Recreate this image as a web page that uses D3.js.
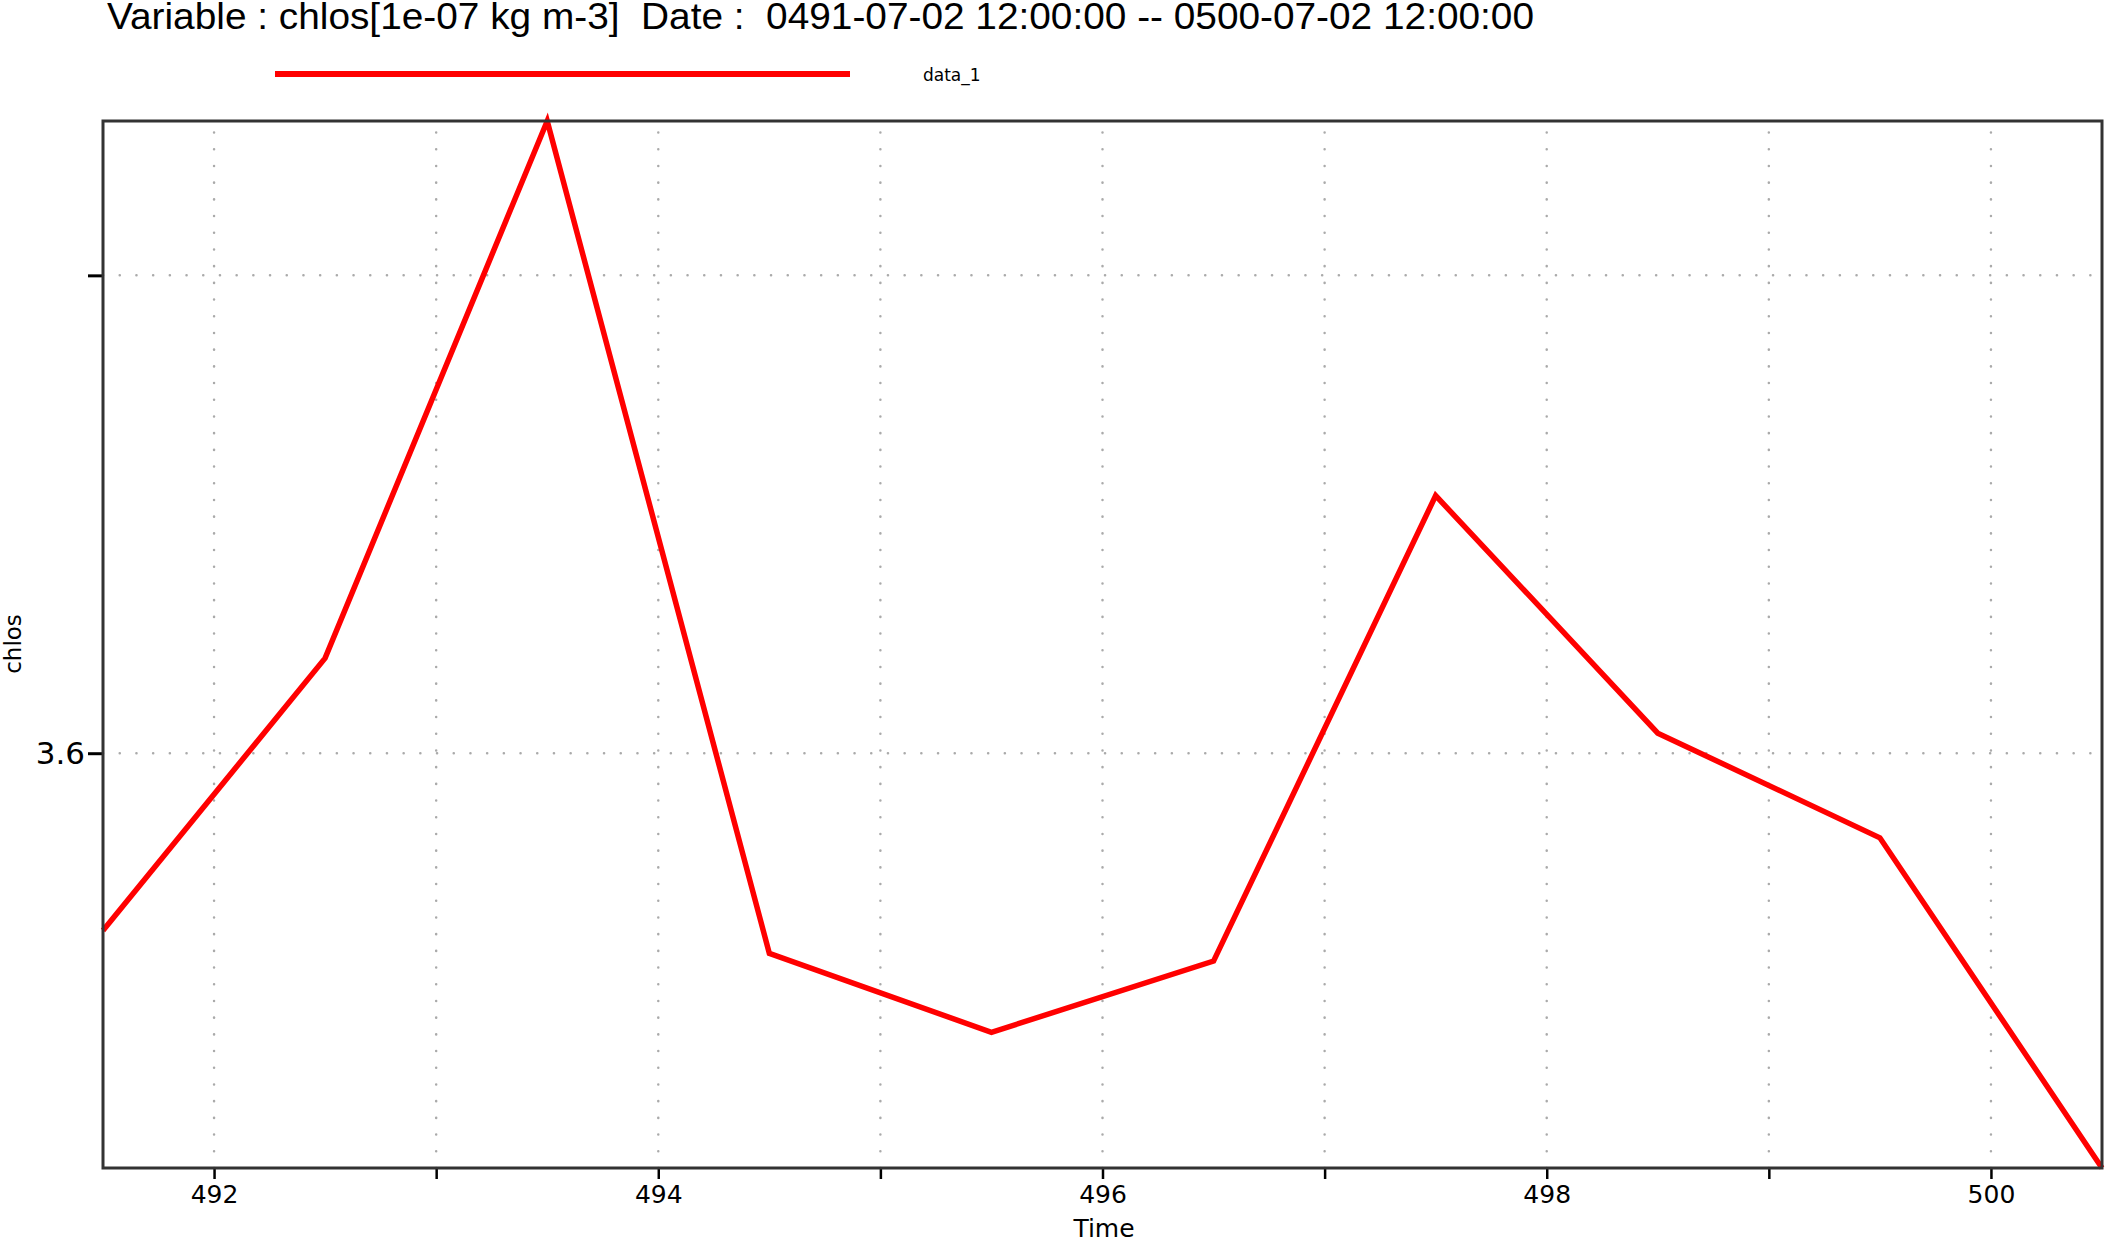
<!DOCTYPE html>
<html><head><meta charset="utf-8">
<script src="https://cdn.jsdelivr.net/npm/d3@7"></script>
<style>html,body{margin:0;padding:0;background:#fff;}</style>
</head><body>
<svg id="chart" width="2106" height="1238"></svg>
<script>
const years = [491.5, 492.5, 493.5, 494.5, 495.5, 496.5, 497.5, 498.5, 499.5, 500.5];
const chlos = [3.5629, 3.6199, 3.7323, 3.5581, 3.5416, 3.5565, 3.6539, 3.6042, 3.5823, 3.5132];
const xTickValues = [492, 493, 494, 495, 496, 497, 498, 499, 500];
const xTickLabels = ["492", "", "494", "", "496", "", "498", "", "500"];
const yTickValues = [3.6, 3.7];
const yTickLabels = ["3.6", ""];
const seriesName = "data_1";
const titleText = "Variable : chlos[1e-07 kg m-3]  Date :  0491-07-02 12:00:00 -- 0500-07-02 12:00:00";

const svg = d3.select("#chart");
const L = 103, R = 2102, T = 121, B = 1168;

const x = d3.scaleLinear().domain([491.5, 500.5]).range([L, R]);
const y = d3.scaleLinear().domain(d3.extent(chlos)).range([B, T]);

// grid
const grid = svg.append("g").attr("stroke", "#aaa").attr("stroke-width", 2.5)
  .attr("stroke-dasharray", "0.1 16.6").attr("stroke-linecap", "round");
grid.selectAll("line.v").data(xTickValues).join("line")
  .attr("x1", d => x(d)).attr("x2", d => x(d)).attr("y1", B).attr("y2", T);
grid.selectAll("line.h").data(yTickValues).join("line").attr("class","h")
  .attr("y1", d => y(d)).attr("y2", d => y(d)).attr("x1", L).attr("x2", R);

// axes
const xAxis = d3.axisBottom(x).tickValues(xTickValues)
  .tickFormat((d, i) => xTickLabels[i]).tickSize(11).tickPadding(6);
const gx = svg.append("g").attr("transform", `translate(0,${B})`).call(xAxis);
gx.select(".domain").remove();
gx.selectAll(".tick line").attr("stroke", "#000").attr("stroke-width", 2.5);
gx.selectAll(".tick text").attr("font-family", "DejaVu Sans")
  .attr("font-size", 25).attr("fill", "#000");

const yAxis = d3.axisLeft(y).tickValues(yTickValues)
  .tickFormat((d, i) => yTickLabels[i]).tickSize(15).tickPadding(3);
const gy = svg.append("g").attr("transform", `translate(${L},0)`).call(yAxis);
gy.select(".domain").remove();
gy.selectAll(".tick line").attr("stroke", "#000").attr("stroke-width", 3);
gy.selectAll(".tick text").attr("font-family", "DejaVu Sans").attr("font-size", 31)
  .attr("fill", "#000");

// line
const line = d3.line().x((d, i) => x(years[i])).y(d => y(d));
svg.append("path").datum(chlos).attr("d", line).attr("fill", "none")
  .attr("stroke", "#ff0000").attr("stroke-width", 5.5).attr("stroke-linejoin", "miter");

// frame
svg.append("rect").attr("x", L).attr("y", T).attr("width", R - L).attr("height", B - T)
  .attr("fill", "none").attr("stroke", "#333").attr("stroke-width", 3);

// title
svg.append("text").attr("x", 107).attr("y", 29).attr("font-family", "Liberation Sans, Arial")
  .attr("font-size", 36).attr("textLength", 1427).attr("lengthAdjust", "spacingAndGlyphs")
  .style("white-space", "pre").attr("xml:space", "preserve")
  .attr("fill", "#000").text(titleText);

// legend
svg.append("line").attr("x1", 275).attr("x2", 850).attr("y1", 74).attr("y2", 74)
  .attr("stroke", "#ff0000").attr("stroke-width", 6);
svg.append("text").attr("x", 923).attr("y", 81).attr("font-family", "DejaVu Sans")
  .attr("font-size", 17).attr("fill", "#000").text(seriesName);

// axis labels
svg.append("text").attr("x", 1104).attr("y", 1237).attr("text-anchor", "middle")
  .attr("font-family", "DejaVu Sans").attr("font-size", 25).attr("fill", "#000").text("Time");
svg.append("text").attr("transform", "translate(21,644) rotate(-90)").attr("text-anchor", "middle")
  .attr("font-family", "DejaVu Sans").attr("font-size", 23).attr("fill", "#000").text("chlos");
</script>
</body></html>
